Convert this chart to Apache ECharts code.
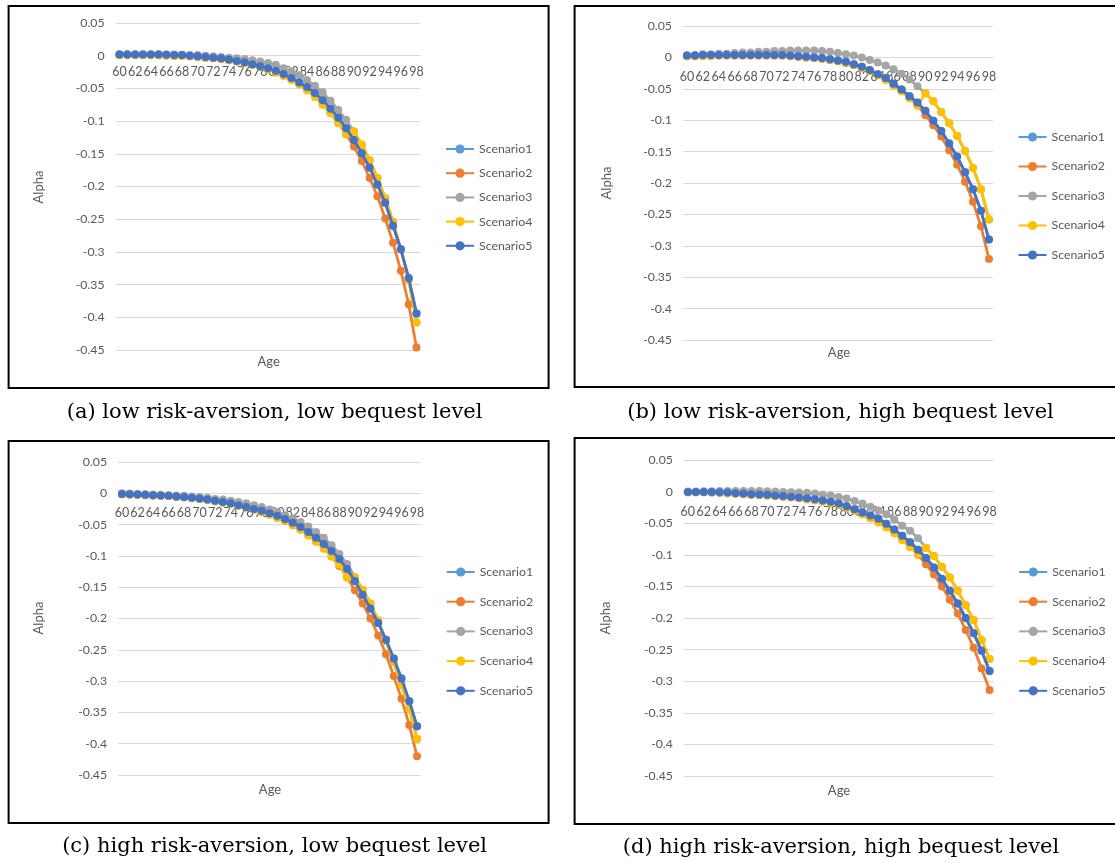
<!DOCTYPE html>
<html><head><meta charset="utf-8">
<script src="https://cdn.jsdelivr.net/npm/echarts@6/dist/echarts.min.js"></script>
<style>html,body{margin:0;padding:0;background:#fff}#c{width:1115px;height:863px}</style>
</head><body><div id="c"></div>
<script>
// Ages (category axis)
const ages = ['60','61','62','63','64','65','66','67','68','69','70','71','72','73','74','75','76','77','78','79','80','81','82','83','84','85','86','87','88','89','90','91','92','93','94','95','96','97','98'];
const scenarioNames = ['Scenario1','Scenario2','Scenario3','Scenario4','Scenario5'];
const captions = ['(a) low risk-aversion, low bequest level','(b) low risk-aversion, high bequest level','(c) high risk-aversion, low bequest level','(d) high risk-aversion, high bequest level'];

// (a) low risk-aversion, low bequest
const a_s1 = [0.002,0.002,0.002,0.002,0.002,0.002,0.0015,0.001,0.001,0,-0.001,-0.002,-0.003,-0.004,-0.006,-0.008,-0.010,-0.013,-0.016,-0.019,-0.023,-0.028,-0.034,-0.041,-0.048,-0.057,-0.068,-0.081,-0.095,-0.111,-0.129,-0.149,-0.171,-0.197,-0.225,-0.260,-0.296,-0.340,-0.394];
const a_s2 = [0.001,0.001,0.001,0.001,0.001,0.001,0.0005,0,0,-0.001,-0.002,-0.003,-0.004,-0.005,-0.007,-0.009,-0.011,-0.014,-0.017,-0.021,-0.025,-0.030,-0.036,-0.043,-0.051,-0.061,-0.073,-0.087,-0.103,-0.120,-0.139,-0.161,-0.187,-0.215,-0.249,-0.286,-0.329,-0.380,-0.446];
const a_s3 = [0.002,0.002,0.002,0.002,0.002,0.002,0.002,0.002,0.0015,0.001,0.001,0,-0.001,-0.002,-0.003,-0.004,-0.005,-0.007,-0.009,-0.011,-0.014,-0.019,-0.024,-0.030,-0.037,-0.046,-0.056,-0.069,-0.083,-0.098,-0.116,-0.136,-0.160,-0.187,-0.218,-0.254,-0.296,-0.343,-0.408];
const a_s4 = [0.0005,0.0005,0.0005,0.0005,0.0005,0.0005,0,-0.0005,-0.0005,-0.001,-0.002,-0.003,-0.004,-0.005,-0.007,-0.009,-0.011,-0.014,-0.017,-0.021,-0.026,-0.031,-0.037,-0.044,-0.053,-0.063,-0.075,-0.088,-0.103,-0.120,-0.116,-0.136,-0.160,-0.187,-0.218,-0.254,-0.296,-0.343,-0.408];
const a_s5 = [0.002,0.002,0.002,0.002,0.002,0.002,0.0015,0.001,0.001,0,-0.001,-0.002,-0.003,-0.004,-0.006,-0.008,-0.010,-0.013,-0.016,-0.019,-0.023,-0.028,-0.034,-0.041,-0.048,-0.057,-0.068,-0.081,-0.095,-0.111,-0.129,-0.149,-0.171,-0.197,-0.225,-0.260,-0.296,-0.340,-0.394];

// (b) low risk-aversion, high bequest
const b_s1 = [0.003,0.003,0.004,0.004,0.004,0.004,0.004,0.004,0.004,0.004,0.004,0.004,0.004,0.003,0.002,0.001,0,-0.001,-0.003,-0.005,-0.007,-0.011,-0.015,-0.020,-0.027,-0.033,-0.042,-0.051,-0.062,-0.072,-0.085,-0.101,-0.117,-0.137,-0.158,-0.183,-0.210,-0.244,-0.290];
const b_s2 = [0.002,0.002,0.003,0.003,0.003,0.003,0.003,0.003,0.003,0.003,0.003,0.003,0.003,0.002,0.001,0,-0.001,-0.002,-0.004,-0.006,-0.009,-0.012,-0.016,-0.021,-0.028,-0.035,-0.044,-0.053,-0.064,-0.076,-0.092,-0.108,-0.126,-0.148,-0.171,-0.198,-0.230,-0.269,-0.321];
const b_s3 = [0.003,0.004,0.005,0.005,0.006,0.006,0.007,0.008,0.008,0.009,0.009,0.010,0.010,0.011,0.011,0.011,0.011,0.010,0.009,0.007,0.005,0.003,0,-0.004,-0.008,-0.013,-0.019,-0.026,-0.035,-0.046,-0.057,-0.070,-0.087,-0.105,-0.125,-0.149,-0.176,-0.210,-0.258];
const b_s4 = [0.002,0.002,0.002,0.002,0.003,0.003,0.003,0.003,0.003,0.003,0.003,0.003,0.003,0.002,0.001,0,-0.001,-0.002,-0.004,-0.006,-0.009,-0.012,-0.017,-0.022,-0.029,-0.036,-0.045,-0.054,-0.065,-0.077,-0.057,-0.070,-0.087,-0.105,-0.125,-0.149,-0.176,-0.210,-0.258];
const b_s5 = [0.003,0.003,0.004,0.004,0.004,0.004,0.004,0.004,0.004,0.004,0.004,0.004,0.004,0.003,0.002,0.001,0,-0.001,-0.003,-0.005,-0.007,-0.011,-0.015,-0.020,-0.027,-0.033,-0.042,-0.051,-0.062,-0.072,-0.085,-0.101,-0.117,-0.137,-0.158,-0.183,-0.210,-0.244,-0.290];

// (c) high risk-aversion, low bequest
const c_s1 = [-0.001,-0.0015,-0.002,-0.0025,-0.003,-0.0035,-0.004,-0.005,-0.006,-0.007,-0.0085,-0.010,-0.012,-0.014,-0.016,-0.019,-0.022,-0.025,-0.028,-0.032,-0.036,-0.041,-0.047,-0.054,-0.062,-0.071,-0.081,-0.092,-0.105,-0.121,-0.140,-0.162,-0.184,-0.207,-0.234,-0.264,-0.296,-0.332,-0.372];
const c_s2 = [-0.0015,-0.002,-0.0025,-0.003,-0.0035,-0.004,-0.0045,-0.0055,-0.0065,-0.0075,-0.009,-0.0105,-0.0125,-0.0145,-0.0165,-0.0195,-0.0225,-0.026,-0.030,-0.034,-0.039,-0.044,-0.051,-0.058,-0.067,-0.077,-0.088,-0.101,-0.116,-0.134,-0.155,-0.176,-0.200,-0.227,-0.257,-0.292,-0.328,-0.370,-0.420];
const c_s3 = [0,-0.0005,-0.001,-0.0015,-0.002,-0.0025,-0.003,-0.0035,-0.004,-0.005,-0.006,-0.007,-0.009,-0.010,-0.012,-0.014,-0.016,-0.019,-0.022,-0.026,-0.030,-0.035,-0.040,-0.046,-0.053,-0.062,-0.071,-0.083,-0.097,-0.113,-0.134,-0.154,-0.176,-0.203,-0.236,-0.270,-0.306,-0.344,-0.392];
const c_s4 = [-0.0015,-0.002,-0.0025,-0.003,-0.0035,-0.004,-0.0045,-0.0055,-0.0065,-0.0075,-0.009,-0.0105,-0.0125,-0.0145,-0.0165,-0.0195,-0.0225,-0.026,-0.030,-0.034,-0.039,-0.044,-0.051,-0.058,-0.067,-0.077,-0.088,-0.100,-0.114,-0.135,-0.134,-0.154,-0.176,-0.203,-0.236,-0.270,-0.306,-0.344,-0.392];
const c_s5 = [-0.001,-0.0015,-0.002,-0.0025,-0.003,-0.0035,-0.004,-0.005,-0.006,-0.007,-0.0085,-0.010,-0.012,-0.014,-0.016,-0.019,-0.022,-0.025,-0.028,-0.032,-0.036,-0.041,-0.047,-0.054,-0.062,-0.071,-0.081,-0.092,-0.105,-0.121,-0.140,-0.162,-0.184,-0.207,-0.234,-0.264,-0.296,-0.332,-0.372];

// (d) high risk-aversion, high bequest
const d_s1 = [-0.0005,-0.0005,-0.0005,-0.0005,-0.001,-0.0015,-0.0025,-0.003,-0.004,-0.0045,-0.005,-0.006,-0.007,-0.008,-0.0095,-0.0105,-0.012,-0.014,-0.016,-0.019,-0.023,-0.028,-0.033,-0.038,-0.043,-0.051,-0.060,-0.070,-0.080,-0.092,-0.105,-0.120,-0.138,-0.157,-0.177,-0.200,-0.224,-0.252,-0.284];
const d_s2 = [-0.001,-0.001,-0.001,-0.0015,-0.002,-0.0025,-0.003,-0.004,-0.005,-0.0055,-0.006,-0.007,-0.008,-0.009,-0.0105,-0.012,-0.0135,-0.0155,-0.018,-0.021,-0.025,-0.030,-0.036,-0.042,-0.048,-0.055,-0.064,-0.075,-0.086,-0.100,-0.115,-0.131,-0.150,-0.171,-0.193,-0.219,-0.247,-0.280,-0.314];
const d_s3 = [0,0,0.0005,0.0005,0.001,0.001,0.001,0.001,0.001,0.001,0.0005,0,-0.0005,-0.001,-0.0015,-0.002,-0.003,-0.005,-0.006,-0.0085,-0.011,-0.015,-0.019,-0.024,-0.030,-0.036,-0.044,-0.054,-0.062,-0.074,-0.089,-0.102,-0.119,-0.136,-0.157,-0.180,-0.203,-0.235,-0.265];
const d_s4 = [-0.001,-0.001,-0.001,-0.0015,-0.002,-0.0025,-0.003,-0.004,-0.005,-0.0055,-0.006,-0.007,-0.008,-0.009,-0.0105,-0.012,-0.0135,-0.0155,-0.018,-0.021,-0.025,-0.030,-0.036,-0.042,-0.049,-0.057,-0.066,-0.077,-0.088,-0.099,-0.089,-0.102,-0.119,-0.136,-0.157,-0.180,-0.203,-0.235,-0.265];
const d_s5 = [-0.0005,-0.0005,-0.0005,-0.0005,-0.001,-0.0015,-0.0025,-0.003,-0.004,-0.0045,-0.005,-0.006,-0.007,-0.008,-0.0095,-0.0105,-0.012,-0.014,-0.016,-0.019,-0.023,-0.028,-0.033,-0.038,-0.043,-0.051,-0.060,-0.070,-0.080,-0.092,-0.105,-0.120,-0.138,-0.157,-0.177,-0.200,-0.224,-0.252,-0.284];

const panelData = [
  [a_s1,a_s2,a_s3,a_s4,a_s5],
  [b_s1,b_s2,b_s3,b_s4,b_s5],
  [c_s1,c_s2,c_s3,c_s4,c_s5],
  [d_s1,d_s2,d_s3,d_s4,d_s5]
];

const colors = ['#5B9BD5','#ED7D31','#A5A5A5','#FFC000','#4472C4'];
const textGray = '#595959';
const uiFont = 'Lato, "Open Sans", sans-serif';
const serifFont = '"DejaVu Serif", "Liberation Serif", serif';
const yMin = -0.45, yMax = 0.05;

// layout per panel
const layout = [
  {grid:{left:115.6,top:23,width:304.8,height:327}, xMargin:10, box:[8.6,6,540,382], alpha:[38.6,187], age:[268.6,362], legend:{left:445,top:143,gap:12.2}, cap:[274.6,413]},
  {grid:{left:683,top:26,width:309.9,height:314}, xMargin:13.5, box:[574.6,6,560,381], alpha:[606.8,183], age:[839,353], legend:{left:1017.5,top:131,gap:17.5}, cap:[840.5,413]},
  {grid:{left:118.1,top:462,width:302.8,height:313}, xMargin:13.5, box:[8.6,441,540,382], alpha:[38.6,618], age:[270,790], legend:{left:445.7,top:566,gap:17.7}, cap:[274.6,847]},
  {grid:{left:683.9,top:460,width:309.6,height:316}, xMargin:13.5, box:[574.6,438,560,386], alpha:[605.7,618], age:[839,791], legend:{left:1018.2,top:566,gap:17.7}, cap:[841,848]}
];

const grids=[],xAxes=[],yAxes=[],series=[],legends=[],graphics=[];
layout.forEach((L,p)=>{
  grids.push(Object.assign({containLabel:false},L.grid));
  // category axis drawn at value 0 of the value axis
  const zeroOffset = -L.grid.height * (0 - yMin) / (yMax - yMin);
  xAxes.push({type:'category',gridIndex:p,data:ages,boundaryGap:true,position:'bottom',offset:zeroOffset,
    axisLine:{show:true,onZero:false,lineStyle:{color:'#d9d9d9',width:1}},
    axisTick:{show:false},
    axisLabel:{interval:1,margin:L.xMargin,color:textGray,fontSize:12.5,fontFamily:uiFont,hideOverlap:false},
    splitLine:{show:false}});
  yAxes.push({type:'value',gridIndex:p,min:yMin,max:yMax,interval:0.05,
    axisLine:{show:false},axisTick:{show:false},
    axisLabel:{margin:11,color:textGray,fontSize:12.3,fontFamily:uiFont,
      formatter:v=>{const r=Math.round(v*100)/100;return r===0?'0':String(r);}},
    splitLine:{show:true,lineStyle:{color:'#d9d9d9',width:1}}});
  panelData[p].forEach((arr,k)=>{
    series.push({type:'line',name:scenarioNames[k],xAxisIndex:p,yAxisIndex:p,data:arr,
      symbol:'circle',symbolSize:8,showSymbol:true,showAllSymbol:true,
      lineStyle:{width:2.75,color:colors[k]},itemStyle:{color:colors[k],borderWidth:0},
      z:2+k,animation:false,emphasis:{disabled:true},silent:true});
  });
  legends.push({orient:'vertical',left:L.legend.left,top:L.legend.top,padding:0,
    itemWidth:28,itemHeight:11.5,itemGap:L.legend.gap,selectedMode:false,
    data:scenarioNames,textStyle:{color:textGray,fontSize:12.3,fontFamily:uiFont}});
  graphics.push({type:'rect',shape:{x:L.box[0],y:L.box[1],width:L.box[2],height:L.box[3]},
    style:{fill:'none',stroke:'#000',lineWidth:2},silent:true});
  graphics.push({type:'text',x:L.alpha[0],y:L.alpha[1],rotation:Math.PI/2,
    style:{text:'Alpha',fill:textGray,font:'13px '+uiFont,align:'center',verticalAlign:'middle',textAlign:'center',textVerticalAlign:'middle'}});
  graphics.push({type:'text',x:L.age[0],y:L.age[1],
    style:{text:'Age',fill:textGray,font:'13px '+uiFont,align:'center',verticalAlign:'middle',textAlign:'center',textVerticalAlign:'middle'}});
  graphics.push({type:'text',x:L.cap[0],y:L.cap[1],
    style:{text:captions[p],fill:'#000',font:'21px '+serifFont,align:'center',verticalAlign:'middle',textAlign:'center',textVerticalAlign:'middle'}});
});

const chart = echarts.init(document.getElementById('c'),null,{renderer:'canvas'});
chart.setOption({animation:false,backgroundColor:'#fff',grid:grids,xAxis:xAxes,yAxis:yAxes,series:series,legend:legends,graphic:graphics});
</script></body></html>
